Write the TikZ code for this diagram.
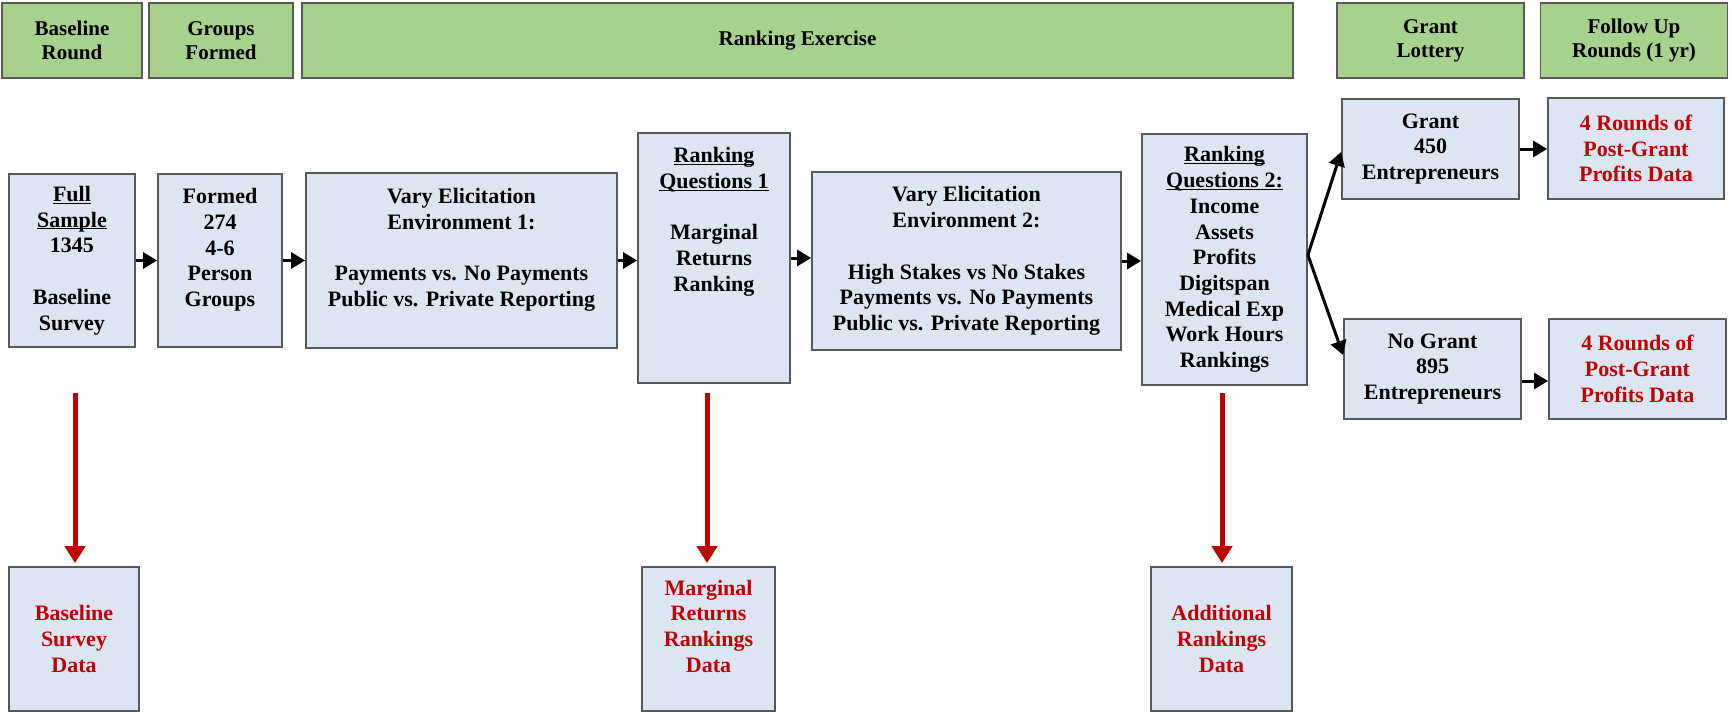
\documentclass[tikz,border=0pt]{standalone}
\usepackage{fontspec}
\setmainfont{Liberation Serif}
\usetikzlibrary{arrows.meta}
\definecolor{hdrgreen}{HTML}{A9D18E}
\definecolor{boxblue}{HTML}{DCE6F2}
\definecolor{edgegray}{HTML}{595959}
\definecolor{darkred}{HTML}{C00000}
\newcommand{\bodyfont}{\fontsize{22}{25.7}\selectfont\bfseries}
\newcommand{\hdrfont}{\fontsize{21}{24}\selectfont\bfseries}
\newcommand{\myul}[1]{\underline{\raisebox{0pt}[\height][0pt]{#1}}}
\begin{document}
\begin{tikzpicture}[x=1pt,y=-1pt,
  hdr/.style={draw=edgegray, line width=1.8pt, fill=hdrgreen, inner sep=0pt, align=center, font=\hdrfont, text=black},
  bx/.style={draw=edgegray, line width=1.8pt, fill=boxblue, inner sep=0pt, align=center, font=\bodyfont},
  redtxt/.style={text=darkred},
  arr/.style={line width=3pt, -{Triangle[length=14pt,width=16pt]}},
  redarr/.style={draw=darkred, line width=5pt, -{Triangle[length=17pt,width=20pt]}, shorten >=3pt},
]
\fill[white] (0,0) rectangle (1732,712);
\useasboundingbox (0,0) rectangle (1732,712);

% header row
\node[hdr, minimum width=140pt, minimum height=75pt] (h1) at (72,40.5) {Baseline\\Round};
\node[hdr, minimum width=144pt, minimum height=75pt] (h2) at (221,40.5) {Groups\\Formed};
\node[hdr, minimum width=991pt, minimum height=75pt] (h3) at (797.5,40.5) {Ranking Exercise};
\node[hdr, minimum width=187pt, minimum height=75pt] (h4) at (1430.5,40.5) {Grant\\Lottery};
\node[hdr, minimum width=187pt, minimum height=75pt] (h5) at (1634,40.5) {Follow Up\\Rounds (1 yr)};

% main row
\node[bx, minimum width=126pt, minimum height=173pt] (fs) at (72,260.5)
  {\myul{Full}\\\myul{Sample}\\1345\\~\\Baseline\\Survey};
\node[bx, minimum width=124pt, minimum height=173pt] (fg) at (220,260.5)
  {Formed\\274\\4-6\\Person\\Groups\\~};
\node[bx, minimum width=311pt, minimum height=175pt] (v1) at (461.5,260.5)
  {Vary Elicitation\\Environment 1:\\~\\Payments vs. No Payments\\Public vs. Private Reporting\\~};
\node[bx, minimum width=152pt, minimum height=250pt] (rq1) at (714,258)
  {\myul{Ranking}\\\myul{Questions 1}\\~\\Marginal\\Returns\\Ranking\\~\\~\\~};
\node[bx, minimum width=309pt, minimum height=178pt] (v2) at (966.5,261)
  {Vary Elicitation\\Environment 2:\\~\\High Stakes vs No Stakes\\Payments vs. No Payments\\Public vs. Private Reporting};
\node[bx, minimum width=165pt, minimum height=251pt] (rq2) at (1224.5,259.5)
  {\myul{Ranking}\\\myul{Questions 2:}\\Income\\Assets\\Profits\\Digitspan\\Medical Exp\\Work Hours\\Rankings};
\node[bx, minimum width=177pt, minimum height=100pt] (gr) at (1430.5,149)
  {Grant\\450\\Entrepreneurs};
\node[bx, redtxt, minimum width=176pt, minimum height=101pt] (r4a) at (1636,148.5)
  {4 Rounds of\\Post-Grant\\Profits Data};
\node[bx, minimum width=177pt, minimum height=100pt] (ng) at (1432.5,369)
  {No Grant\\895\\Entrepreneurs};
\node[bx, redtxt, minimum width=177pt, minimum height=100pt] (r4b) at (1637.5,369)
  {4 Rounds of\\Post-Grant\\Profits Data};

% bottom row
\node[bx, redtxt, minimum width=130pt, minimum height=144pt] (bsd) at (74,639)
  {Baseline\\Survey\\Data};
\node[bx, redtxt, minimum width=133pt, minimum height=144pt] (mrd) at (708.5,639)
  {Marginal\\Returns\\Rankings\\Data\\~};
\node[bx, redtxt, minimum width=141pt, minimum height=144pt] (ard) at (1221.5,639)
  {Additional\\Rankings\\Data};

% black connectors
\draw[arr] (fs.east) -- (fs.east -| fg.west);
\draw[arr] (fg.east) -- (fg.east -| v1.west);
\draw[arr] (v1.east) -- (v1.east -| rq1.west);
\draw[arr] (rq1.east) -- (rq1.east -| v2.west);
\draw[arr] (v2.east) -- (v2.east -| rq2.west);
\draw[arr] ([yshift=4.5pt]rq2.east) -- ([yshift=-3pt]gr.west);
\draw[arr] ([yshift=4.5pt]rq2.east) -- ([yshift=14pt]ng.west);
\draw[arr] (gr.east) -- (gr.east -| r4a.west);
\draw[arr] ([yshift=-12pt]ng.east) -- ([yshift=-12pt]ng.east -| r4b.west);

% red connectors
\coordinate (s1) at (75,393);
\coordinate (s2) at (707,393);
\coordinate (s3) at (1222,393);
\draw[redarr] (s1) -- (s1 |- bsd.north);
\draw[redarr] (s2) -- (s2 |- mrd.north);
\draw[redarr] (s3) -- (s3 |- ard.north);
\end{tikzpicture}
\end{document}
